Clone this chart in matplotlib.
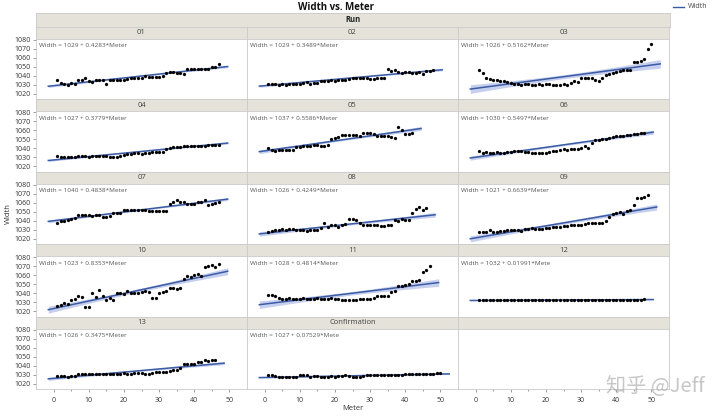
import numpy as np
import matplotlib
matplotlib.use("Agg")
import matplotlib.pyplot as plt

plt.rcParams['font.family'] = ['Open Sans', 'Noto Sans CJK SC', 'DejaVu Sans']

runs = ["01", "02", "03", "04", "05", "06", "07", "08", "09", "10", "11", "12", "13", "Confirmation"]

w01 = [1035, 1032, 1031, 1030, 1032, 1031, 1035, 1035, 1037, 1034, 1033, 1035, 1035, 1035, 1031, 1035,
       1035, 1035, 1035, 1035, 1036, 1037, 1037, 1037, 1038, 1040, 1039, 1039, 1039, 1039, 1040, 1043,
       1044, 1044, 1043, 1043, 1042, 1047, 1047, 1047, 1047, 1047, 1047, 1047, 1050, 1050, 1053]
w02 = [1031, 1031, 1031, 1030, 1031, 1030, 1031, 1031, 1031, 1031, 1032, 1033, 1031, 1032, 1032, 1034,
       1034, 1034, 1035, 1034, 1035, 1035, 1035, 1036, 1037, 1038, 1038, 1037, 1037, 1036, 1036, 1037,
       1037, 1037, 1047, 1045, 1046, 1044, 1043, 1044, 1044, 1043, 1043, 1044, 1042, 1045, 1045, 1046]
w03 = [1046, 1043, 1037, 1036, 1035, 1035, 1034, 1034, 1033, 1032, 1031, 1031, 1030, 1031, 1031, 1030,
       1030, 1031, 1030, 1031, 1031, 1030, 1030, 1030, 1031, 1030, 1032, 1034, 1033, 1037, 1038, 1038,
       1037, 1035, 1034, 1038, 1041, 1042, 1043, 1044, 1045, 1046, 1046, 1046, 1055, 1055, 1056, 1058,
       1070, 1075]
w04 = [1031, 1030, 1030, 1030, 1030, 1030, 1031, 1031, 1031, 1030, 1031, 1031, 1031, 1031, 1031, 1030,
       1030, 1030, 1031, 1032, 1034, 1034, 1035, 1035, 1034, 1035, 1035, 1036, 1036, 1036, 1036, 1039,
       1040, 1041, 1041, 1041, 1042, 1042, 1042, 1042, 1042, 1042, 1043, 1044, 1044, 1044, 1044]
w05 = [1040, 1038, 1037, 1038, 1038, 1038, 1038, 1038, 1041, 1041, 1042, 1042, 1043, 1044, 1044, 1043,
       1042, 1044, 1050, 1051, 1052, 1055, 1055, 1055, 1055, 1055, 1054, 1057, 1057, 1057, 1056, 1054,
       1054, 1053, 1053, 1052, 1051, 1064, 1060, 1056, 1056, 1057]
w06 = [1037, 1035, 1036, 1035, 1035, 1036, 1035, 1035, 1036, 1036, 1037, 1037, 1037, 1036, 1036, 1035,
       1035, 1035, 1035, 1035, 1036, 1037, 1037, 1038, 1039, 1038, 1039, 1039, 1039, 1040, 1042, 1040,
       1046, 1049, 1049, 1050, 1050, 1051, 1052, 1053, 1053, 1054, 1055, 1055, 1056, 1056, 1057, 1057]
w07 = [1037, 1040, 1040, 1041, 1042, 1043, 1046, 1046, 1046, 1046, 1045, 1046, 1046, 1044, 1044, 1045,
       1049, 1049, 1048, 1052, 1052, 1052, 1052, 1052, 1052, 1052, 1051, 1051, 1051, 1051, 1051, 1051,
       1058, 1061, 1063, 1061, 1061, 1059, 1059, 1058, 1061, 1061, 1063, 1057, 1058, 1060, 1061]
w08 = [1028, 1029, 1030, 1030, 1031, 1030, 1031, 1031, 1030, 1030, 1030, 1029, 1030, 1030, 1030, 1032,
       1038, 1033, 1035, 1035, 1033, 1035, 1036, 1042, 1042, 1041, 1037, 1035, 1035, 1035, 1035, 1035,
       1034, 1034, 1035, 1035, 1041, 1040, 1042, 1041, 1041, 1049, 1053, 1055, 1052, 1054]
w09 = [1028, 1028, 1028, 1030, 1028, 1028, 1029, 1029, 1030, 1030, 1030, 1030, 1029, 1031, 1031, 1032,
       1031, 1031, 1031, 1032, 1032, 1033, 1033, 1033, 1034, 1034, 1035, 1035, 1035, 1035, 1036, 1037,
       1038, 1038, 1038, 1038, 1040, 1044, 1047, 1048, 1050, 1047, 1051, 1052, 1057, 1065, 1065, 1066,
       1069]
w10 = [1026, 1027, 1029, 1028, 1032, 1034, 1037, 1036, 1025, 1025, 1040, 1036, 1044, 1037, 1033, 1035,
       1032, 1040, 1040, 1039, 1042, 1040, 1040, 1040, 1041, 1043, 1041, 1035, 1035, 1040, 1041, 1042,
       1046, 1046, 1045, 1046, 1056, 1059, 1058, 1060, 1061, 1059, 1069, 1070, 1071, 1069, 1072]
w11 = [1038, 1038, 1037, 1035, 1034, 1034, 1035, 1034, 1034, 1034, 1035, 1034, 1034, 1034, 1035, 1034,
       1034, 1034, 1035, 1034, 1034, 1033, 1033, 1033, 1033, 1033, 1034, 1034, 1034, 1034, 1035, 1037,
       1037, 1037, 1037, 1041, 1042, 1048, 1048, 1049, 1050, 1053, 1054, 1055, 1063, 1066, 1070]
w12 = [1033, 1033, 1032, 1032, 1032, 1032, 1032, 1032, 1032, 1032, 1032, 1032, 1032, 1032, 1032, 1032,
       1032, 1032, 1032, 1032, 1032, 1032, 1032, 1033, 1032, 1032, 1032, 1032, 1032, 1032, 1032, 1032,
       1032, 1033, 1032, 1032, 1032, 1032, 1032, 1032, 1032, 1032, 1032, 1032, 1033, 1033, 1033, 1034]
w13 = [1029, 1029, 1029, 1028, 1029, 1029, 1031, 1031, 1031, 1031, 1031, 1031, 1031, 1031, 1031, 1031,
       1031, 1031, 1031, 1032, 1031, 1031, 1032, 1032, 1032, 1031, 1031, 1032, 1033, 1033, 1033, 1033,
       1034, 1035, 1035, 1038, 1042, 1042, 1042, 1042, 1044, 1044, 1046, 1045, 1046, 1046]
w_conf = [1030, 1030, 1029, 1027, 1027, 1027, 1027, 1028, 1028, 1030, 1030, 1030, 1028, 1029, 1029, 1027,
          1027, 1027, 1029, 1027, 1029, 1029, 1030, 1029, 1028, 1027, 1028, 1029, 1030, 1030, 1030, 1030,
          1030, 1030, 1030, 1030, 1030, 1030, 1030, 1031, 1031, 1031, 1031, 1031, 1031, 1031, 1031, 1031,
          1032, 1032]
widths = [w01, w02, w03, w04, w05, w06, w07, w08, w09, w10, w11, w12, w13, w_conf]

intercepts = [1029, 1029, 1026, 1027, 1037, 1030, 1040, 1026, 1021, 1023, 1028, 1032, 1026, 1027]
slopes = [0.4283, 0.3489, 0.5162, 0.3779, 0.5586, 0.5497, 0.4838, 0.4249, 0.6639, 0.8353, 0.4814,
          0.01991, 0.3475, 0.07529]
eq_text = ["Width = 1029 + 0.4283*Meter", "Width = 1029 + 0.3489*Meter", "Width = 1026 + 0.5162*Meter",
           "Width = 1027 + 0.3779*Meter", "Width = 1037 + 0.5586*Meter", "Width = 1030 + 0.5497*Meter",
           "Width = 1040 + 0.4838*Meter", "Width = 1026 + 0.4249*Meter", "Width = 1021 + 0.6639*Meter",
           "Width = 1023 + 0.8353*Meter", "Width = 1028 + 0.4814*Meter", "Width = 1032 + 0.01991*Mete",
           "Width = 1026 + 0.3475*Meter", "Width = 1027 + 0.07529*Mete"]

W, H = 720, 417
fig = plt.figure(figsize=(W / 100, H / 100), dpi=100)


def px_axes(x, y, w, h, **kw):
    # rectangle given in pixels from the top-left corner
    return fig.add_axes([x / W, 1 - (y + h) / H, w / W, h / H], **kw)


strip_col = '#E4E2D9'
edge_col = '#C9C9C9'
line_col = '#3B5BA5'
band_col = '#C6D0EE'
txt_col = '#444444'

col_x = [36, 247, 458]
col_w = 211
top0 = 26.7
row_h = 72.5
strip_h = 12

# "Run" header
ax = px_axes(36, 13.3, 634, 13.4)
ax.set_facecolor(strip_col)
ax.set_xticks([]); ax.set_yticks([])
for s in ax.spines.values():
    s.set_color(edge_col); s.set_linewidth(0.6)
ax.text(0.5, 0.5, "Run", ha='center', va='center', fontsize=5.5, fontweight='bold', color='#222222',
        transform=ax.transAxes)

for k in range(15):
    r, c = divmod(k, 3)
    top = top0 + r * row_h
    sax = px_axes(col_x[c], top, col_w, strip_h)
    sax.set_facecolor(strip_col)
    sax.set_xticks([]); sax.set_yticks([])
    for s in sax.spines.values():
        s.set_color(edge_col); s.set_linewidth(0.6)
    if k < len(runs):
        sax.text(0.5, 0.5, runs[k], ha='center', va='center', fontsize=5.5, color=txt_col,
                 transform=sax.transAxes)

    pax = px_axes(col_x[c], top + strip_h, col_w, row_h - strip_h)
    pax.set_xlim(-5, 55)
    pax.set_ylim(1014, 1081)
    for s in pax.spines.values():
        s.set_color(edge_col); s.set_linewidth(0.6)
    pax.tick_params(colors='#777777', labelcolor='#333333', labelsize=5, length=2.5, width=0.5, pad=1.5)
    if c == 0:
        pax.set_yticks(np.arange(1020, 1081, 10))
    else:
        pax.set_yticks([])
    if r == 4:
        pax.set_xticks(np.arange(0, 51, 10))
        pax.set_xticks(np.arange(5, 51, 10), minor=True)
        pax.tick_params(axis='x', which='minor', length=1.5, width=0.5, colors='#777777')
        pax.tick_params(axis='x', pad=3)
    else:
        pax.set_xticks([])

    if k >= len(runs):
        continue

    y = np.array(widths[k], dtype=float)
    x = np.arange(1, len(y) + 1)
    a, b = intercepts[k], slopes[k]
    xs = np.linspace(x.min() - 2.5, x.max() + 2.5, 100)
    fit = a + b * xs
    resid = y - (a + b * x)
    s = np.sqrt(np.sum(resid ** 2) / (len(x) - 2))
    se = s * np.sqrt(1 / len(x) + (xs - x.mean()) ** 2 / np.sum((x - x.mean()) ** 2))
    pax.fill_between(xs, fit - 2.01 * se, fit + 2.01 * se, color=band_col, lw=0, zorder=1)
    pax.plot(xs, fit, color=line_col, lw=1.1, zorder=2)
    pax.scatter(x, y, s=5.5, color='black', lw=0, zorder=3)
    pax.text(0.015, 0.88, eq_text[k], transform=pax.transAxes, fontsize=4.6, color='#555555',
             ha='left', va='center')

fig.text(336 / W, 1 - 7 / H, "Width vs. Meter", ha='center', va='center', fontsize=7,
         fontweight='bold', color='#111111')
fig.text(8 / W, 1 - 214 / H, "Width", rotation=90, ha='center', va='center', fontsize=5.5,
         color='#333333')
fig.text(353 / W, 1 - 409 / H, "Meter", ha='center', va='center', fontsize=5.5, color='#333333')

# legend in the top right corner
fig.add_artist(plt.Line2D([673 / W, 684 / W], [1 - 7 / H, 1 - 7 / H], color=line_col, lw=1.0))
fig.text(688 / W, 1 - 7 / H, "Width", ha='left', va='center', fontsize=5, color='#444444')

# watermark
fig.text(655 / W, 1 - 386 / H, "知乎 @Jeff", ha='center', va='center', fontsize=14.5,
         color='#9a9a9a', alpha=0.55, family=['Noto Sans CJK SC', 'DejaVu Sans'])

fig.savefig("out.png", dpi=100)
